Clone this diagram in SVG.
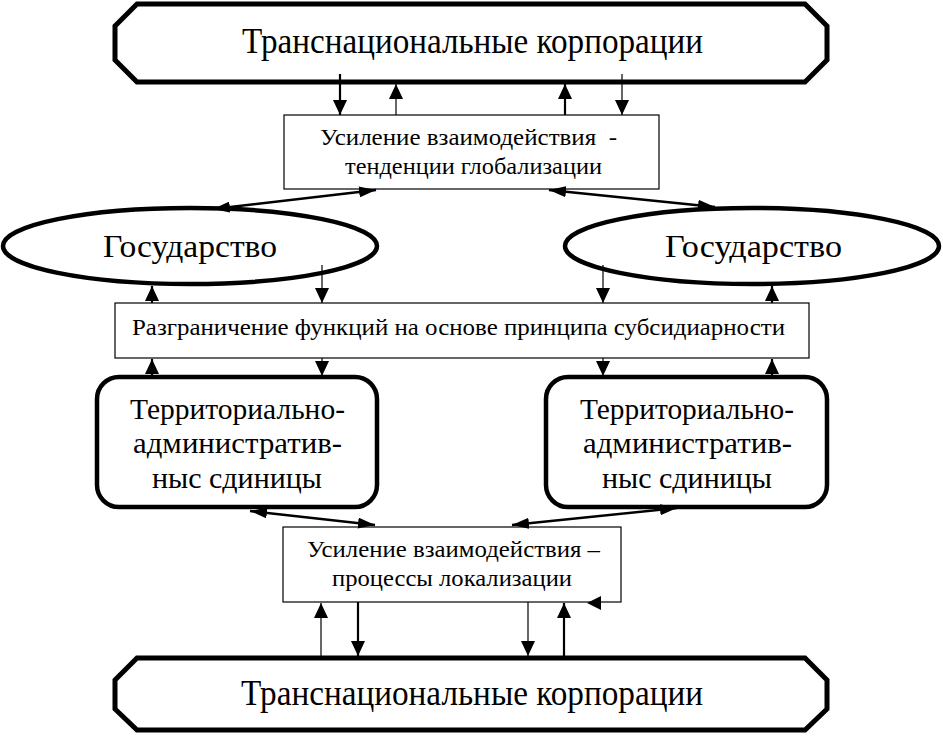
<svg xmlns="http://www.w3.org/2000/svg" width="943" height="736" viewBox="0 0 943 736">
<style>
text{fill:#000}
.oct{fill:#fff;stroke:#000;stroke-width:5;stroke-linejoin:miter}
.ell{fill:#fff;stroke:#000;stroke-width:4.5}
.tae{fill:#fff;stroke:#000;stroke-width:4.5}
.box{fill:#fff;stroke:#000;stroke-width:1.2}
.t1{stroke:#000;stroke-width:1.2;fill:none}
.t2{stroke:#000;stroke-width:2.2;fill:none}
.d{stroke:#000;stroke-width:2.4;fill:none}
</style>
<defs>
<marker id="ah" markerUnits="userSpaceOnUse" viewBox="0 0 15 14" markerWidth="15" markerHeight="14" refX="15" refY="7" orient="auto-start-reverse"><path d="M0,0 L15,7 L0,14 Z" fill="#000"/></marker>
<marker id="ad" markerUnits="userSpaceOnUse" viewBox="0 0 17 11" markerWidth="17" markerHeight="11" refX="17" refY="5.5" orient="auto-start-reverse"><path d="M0,0 L17,5.5 L0,11 Z" fill="#000"/></marker>
</defs>

<g font-family="Liberation Serif, Times New Roman, serif">
<g id="tnc-top">
<path class="oct" d="M137,4 L805,4 L827,26 L827,60 L805,82 L137,82 L115,60 L115,26 Z"/>
<text x="242" y="53" font-size="35" textLength="461" lengthAdjust="spacingAndGlyphs">Транснациональные корпорации</text>
</g>

<g id="globalization">
<rect class="box" x="284" y="115" width="375" height="74"/>
<text x="320" y="145" font-size="23" textLength="297" lengthAdjust="spacingAndGlyphs" xml:space="preserve">Усиление взаимодействия  -</text>
<text x="345" y="174" font-size="23" textLength="257" lengthAdjust="spacingAndGlyphs">тенденции глобализации</text>
</g>

<g id="state-left">
<ellipse class="ell" cx="190" cy="246" rx="187" ry="38"/>
<text x="103" y="257" font-size="32" textLength="174" lengthAdjust="spacingAndGlyphs">Государство</text>
</g>

<g id="state-right">
<ellipse class="ell" cx="752" cy="246" rx="187" ry="38"/>
<text x="665" y="257" font-size="32" textLength="177" lengthAdjust="spacingAndGlyphs">Государство</text>
</g>

<g id="subsidiarity">
<rect class="box" x="115" y="303" width="694" height="55"/>
<text x="132" y="335" font-size="23" textLength="653" lengthAdjust="spacingAndGlyphs">Разграничение функций на основе принципа субсидиарности</text>
</g>

<g id="tae-left">
<rect class="tae" x="97" y="377" width="280" height="130" rx="22" ry="22"/>
<text x="130" y="419" font-size="30" textLength="215" lengthAdjust="spacingAndGlyphs">Территориально-</text>
<text x="133" y="453" font-size="30" textLength="209" lengthAdjust="spacingAndGlyphs">административ-</text>
<text x="152" y="488" font-size="30" textLength="170" lengthAdjust="spacingAndGlyphs">ныс сдиницы</text>
</g>

<g id="tae-right">
<rect class="tae" x="546" y="377" width="281" height="130" rx="22" ry="22"/>
<text x="580" y="419" font-size="30" textLength="214" lengthAdjust="spacingAndGlyphs">Территориально-</text>
<text x="583" y="453" font-size="30" textLength="209" lengthAdjust="spacingAndGlyphs">административ-</text>
<text x="602" y="488" font-size="30" textLength="170" lengthAdjust="spacingAndGlyphs">ныс сдиницы</text>
</g>

<g id="localization">
<rect class="box" x="283" y="527" width="338" height="75"/>
<text x="307" y="557" font-size="23" textLength="293" lengthAdjust="spacingAndGlyphs">Усиление взаимодействия –</text>
<text x="332" y="586" font-size="23" textLength="240" lengthAdjust="spacingAndGlyphs">процессы локализации</text>
</g>

<g id="tnc-bottom">
<path class="oct" d="M137,658 L805,658 L827,680 L827,709 L805,730 L137,730 L115,709 L115,680 Z"/>
<text x="241" y="705" font-size="35" textLength="462" lengthAdjust="spacingAndGlyphs">Транснациональные корпорации</text>
</g>
</g>

<g id="connectors">
<line class="t2" x1="340" y1="74" x2="340" y2="115" marker-end="url(#ah)"/>
<line class="t1" x1="396" y1="115" x2="396" y2="84" marker-end="url(#ah)"/>
<line class="t2" x1="565" y1="115" x2="565" y2="84" marker-end="url(#ah)"/>
<line class="t1" x1="622" y1="74" x2="622" y2="115" marker-end="url(#ah)"/>
<line class="d" x1="213" y1="209" x2="376" y2="190" marker-start="url(#ad)" marker-end="url(#ad)"/>
<line class="d" x1="549" y1="190" x2="715" y2="207" marker-start="url(#ad)" marker-end="url(#ad)"/>
<line class="t2" x1="152" y1="303" x2="152" y2="286" marker-end="url(#ah)"/>
<line class="t1" x1="322" y1="265" x2="322" y2="303" marker-end="url(#ah)"/>
<line class="t1" x1="603" y1="265" x2="603" y2="303" marker-end="url(#ah)"/>
<line class="t2" x1="772" y1="303" x2="772" y2="286" marker-end="url(#ah)"/>
<line class="t2" x1="152" y1="376" x2="152" y2="359" marker-end="url(#ah)"/>
<line class="t1" x1="322" y1="358" x2="322" y2="376" marker-end="url(#ah)"/>
<line class="t1" x1="603" y1="358" x2="603" y2="376" marker-end="url(#ah)"/>
<line class="t2" x1="772" y1="376" x2="772" y2="359" marker-end="url(#ah)"/>
<line class="d" x1="250" y1="511" x2="375" y2="525" marker-start="url(#ad)" marker-end="url(#ad)"/>
<line class="d" x1="512" y1="525" x2="677" y2="508" marker-start="url(#ad)" marker-end="url(#ad)"/>
<line class="t1" x1="321" y1="657" x2="321" y2="603" marker-end="url(#ah)"/>
<line class="t2" x1="358" y1="602" x2="358" y2="656" marker-end="url(#ah)"/>
<line class="t1" x1="528" y1="602" x2="528" y2="656" marker-end="url(#ah)"/>
<line class="t2" x1="564" y1="657" x2="564" y2="603" marker-end="url(#ah)"/>
<path d="M587,603 L601,596 L601,610 Z" fill="#000"/>
</g>
</svg>
